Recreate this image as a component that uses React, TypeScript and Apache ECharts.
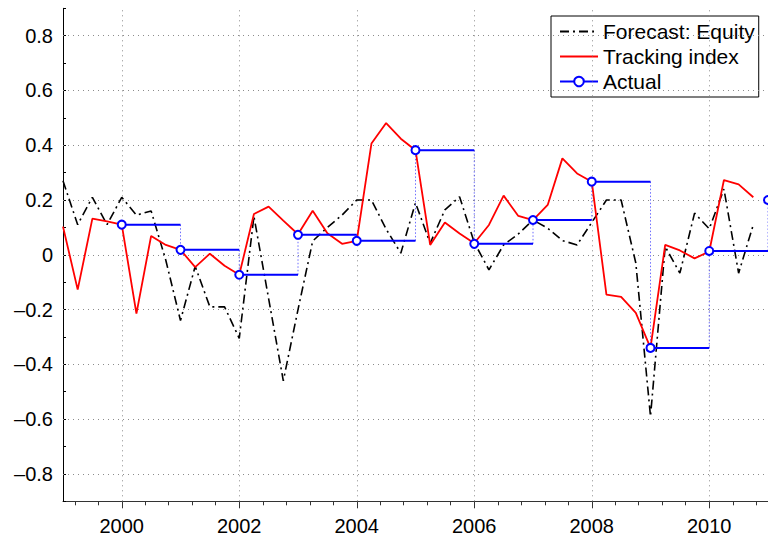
import React, { useEffect, useRef } from 'react';
import * as echarts from 'echarts';

// ---- Data ----
const firstQuarter = 1999; // quarterly series start (1999 Q1)
const quarterStep = 0.25;

const forecastEquity = [
  0.27, 0.11, 0.21, 0.11, 0.21, 0.145, 0.16, -0.02,
  -0.24, -0.042, -0.19, -0.19, -0.305, 0.14, -0.16, -0.46,
  -0.2, 0.05, 0.1, 0.145, 0.2, 0.2, 0.094, 0.006,
  0.19, 0.042, 0.164, 0.212, 0.045, -0.055, 0.036, 0.076,
  0.127, 0.097, 0.052, 0.036, 0.118, 0.2, 0.2, -0.03,
  -0.59, 0.03, -0.067, 0.152, 0.095, 0.24, -0.067, 0.11,
];

const trackingIndex = [
  0.103, -0.127, 0.132, 0.122, 0.11, -0.215, 0.069, 0.036,
  0.018, -0.045, 0.004, -0.04, -0.073, 0.149, 0.176, 0.125,
  0.075, 0.161, 0.079, 0.04, 0.051, 0.406, 0.481, 0.424,
  0.382, 0.036, 0.118, 0.078, 0.042, 0.109, 0.216, 0.142,
  0.127, 0.182, 0.352, 0.297, 0.267, -0.145, -0.154, -0.212,
  -0.34, 0.036, 0.016, -0.013, 0.012, 0.273, 0.257, 0.21,
];

const actualYears = [2000, 2001, 2002, 2003, 2004, 2005, 2006, 2007, 2008, 2009, 2010, 2011];
const actualValues = [0.11, 0.018, -0.073, 0.073, 0.051, 0.382, 0.04, 0.127, 0.267, -0.34, 0.014, 0.2];

const xLabelYears = [2000, 2002, 2004, 2006, 2008, 2010];
const xMinorTicks = [
  1999.2, 1999.6, 2000, 2000.4, 2000.8, 2001.2, 2001.6, 2002, 2002.4, 2002.8,
  2003.2, 2003.6, 2004, 2004.4, 2004.8, 2005.2, 2005.6, 2006, 2006.4, 2006.8,
  2007.2, 2007.6, 2008, 2008.4, 2008.8, 2009.2, 2009.6, 2010, 2010.4, 2010.8,
];
const yGridValues = [-0.8, -0.6, -0.4, -0.2, 0, 0.2, 0.4, 0.6, 0.8];

const FONT = '"Liberation Sans", Arial, Helvetica, sans-serif';

export default function App() {
  const ref = useRef<HTMLDivElement>(null);

  useEffect(() => {
    if (!ref.current) return;
    const chart = echarts.init(ref.current, undefined, { renderer: 'svg' });

    const forecastData = forecastEquity.map((v, i) => [firstQuarter + i * quarterStep, v]);
    const trackingData = trackingIndex.map((v, i) => [firstQuarter + i * quarterStep, v]);

    const actualLine: any[] = [];
    const actualSteps: any[] = [];
    actualYears.forEach((yr, i) => {
      actualLine.push({ value: [yr, actualValues[i]], symbol: 'emptyCircle' });
      if (i < actualYears.length - 1) {
        const nx = actualYears[i + 1];
        actualLine.push({ value: [nx, actualValues[i]], symbol: 'none' });
        actualLine.push({ value: [nx, '-'], symbol: 'none' });
        actualSteps.push([nx, actualValues[i]]);
        actualSteps.push([nx, actualValues[i + 1]]);
        actualSteps.push([nx, '-']);
      }
    });

    const option: any = {
      animation: false,
      backgroundColor: '#ffffff',
      textStyle: { fontFamily: FONT },
      grid: { left: 63, right: 0, top: 8.3, bottom: 36.7, containLabel: false },
      legend: {
        data: [
          { name: 'Forecast: Equity', itemStyle: { opacity: 0 } },
          { name: 'Tracking index', itemStyle: { opacity: 0 } },
          { name: 'Actual' },
        ],
        orient: 'vertical',
        left: 551,
        top: 16,
        padding: [3, 4, 3, 8],
        itemGap: 0,
        itemWidth: 38,
        itemHeight: 12,
        borderColor: '#000',
        borderWidth: 1,
        backgroundColor: '#fff',
        selectedMode: false,
        textStyle: { fontSize: 21, color: '#000', fontFamily: FONT, lineHeight: 25 },
      },
      xAxis: [
        {
          type: 'value',
          min: 1999,
          max: 2011,
          position: 'bottom',
          axisLine: { show: true, onZero: false, lineStyle: { color: '#333', width: 1 } },
          axisTick: { show: true, inside: false, length: 7, customValues: xLabelYears, lineStyle: { color: '#333' } },
          axisLabel: {
            show: true,
            customValues: xLabelYears,
            fontSize: 20,
            color: '#000',
            margin: 15,
            fontFamily: FONT,
            formatter: (v: number) => String(Math.round(v)),
          },
          splitLine: { show: false },
        },
        {
          type: 'value',
          min: 1999,
          max: 2011,
          position: 'bottom',
          axisLine: { show: false, onZero: false },
          axisTick: { show: true, inside: false, length: 4, customValues: xMinorTicks, lineStyle: { color: '#333' } },
          axisLabel: { show: false },
          splitLine: { show: false },
        },
      ],
      yAxis: {
        type: 'value',
        min: -0.9,
        max: 0.9,
        interval: 0.1,
        axisLine: { show: true, onZero: false, lineStyle: { color: '#000', width: 1 } },
        axisTick: { show: true, inside: true, length: 3, lineStyle: { color: '#000' } },
        axisLabel: {
          fontSize: 20,
          color: '#000',
          margin: 10,
          fontFamily: FONT,
          formatter: (v: number) => {
            const r = Math.round(v * 10);
            if (r % 2 !== 0 || Math.abs(r) > 8) return '';
            const s = (Math.abs(r) / 10).toString();
            return r < 0 ? '\u2013' + s : s;
          },
        },
        splitLine: { show: false },
      },
      series: [
        {
          name: 'gridlines',
          type: 'line',
          data: [],
          silent: true,
          z: 1,
          markLine: {
            silent: true,
            symbol: ['none', 'none'],
            label: { show: false },
            lineStyle: { color: '#8c8c8c', type: [1, 4], width: 1 },
            emphasis: { disabled: true },
            data: [
              ...yGridValues.map((v) => ({ yAxis: v })),
              ...xLabelYears.map((v) => ({ xAxis: v })),
            ],
          },
        },
        {
          name: 'Forecast: Equity',
          type: 'line',
          data: forecastData,
          symbol: 'none',
          z: 10,
          lineStyle: { color: '#000', width: 1.6, type: [9, 4, 2, 4] },
          itemStyle: { color: '#000' },
        },
        {
          name: 'Tracking index',
          type: 'line',
          data: trackingData,
          symbol: 'none',
          z: 11,
          lineStyle: { color: '#ff0000', width: 1.8 },
          itemStyle: { color: '#ff0000' },
        },
        {
          name: 'Actual steps',
          type: 'line',
          data: actualSteps,
          symbol: 'none',
          z: 12,
          connectNulls: false,
          lineStyle: { color: 'rgba(60,60,255,0.75)', width: 1, type: [1.5, 2] },
        },
        {
          name: 'Actual',
          type: 'line',
          data: actualLine,
          symbol: 'emptyCircle',
          symbolSize: 8,
          showSymbol: true,
          connectNulls: false,
          z: 13,
          lineStyle: { color: '#0000ff', width: 2 },
          itemStyle: { color: '#0000ff', borderWidth: 1.6 },
        },
      ],
    };

    chart.setOption(option);
    return () => chart.dispose();
  }, []);

  return (
    <div
      ref={ref}
      style={{ position: 'fixed', left: 0, top: 0, width: 768, height: 538, background: '#fff' }}
    />
  );
}
